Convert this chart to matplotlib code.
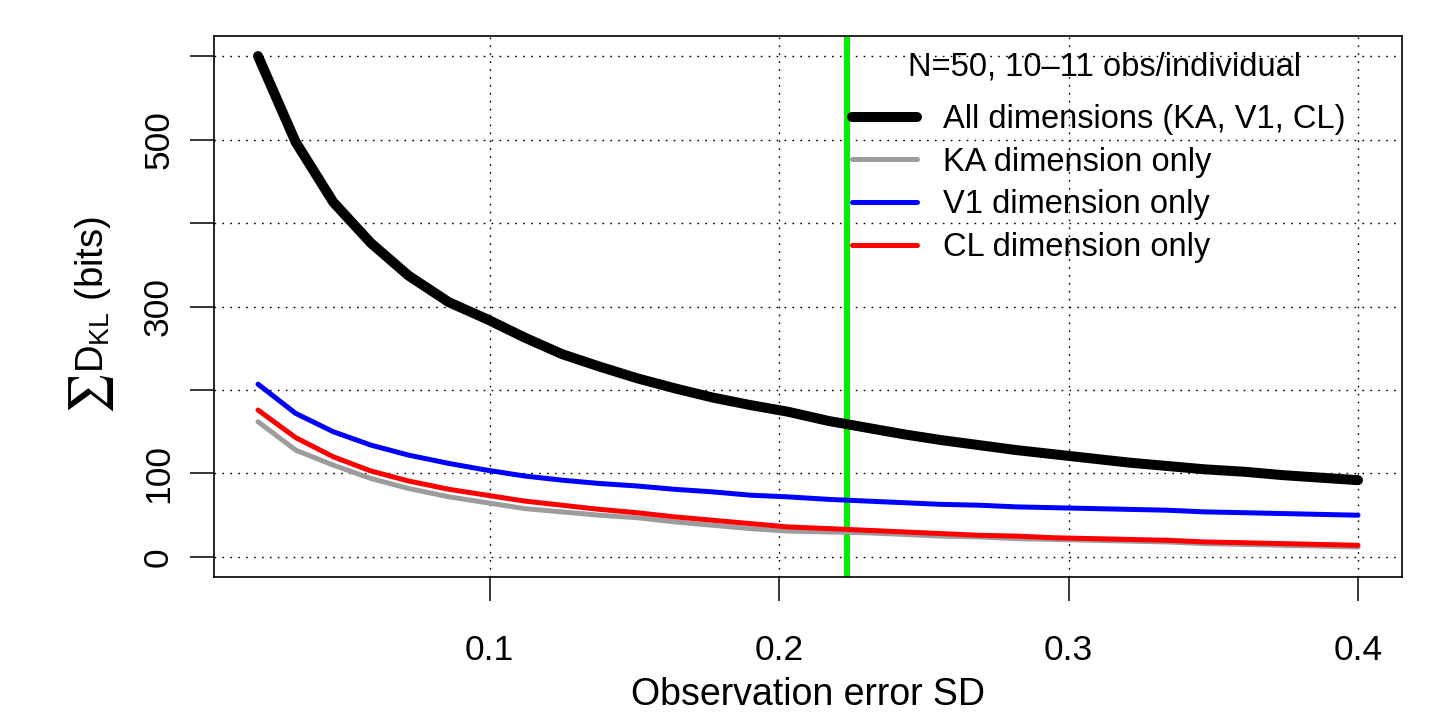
import matplotlib
matplotlib.use('Agg')
import matplotlib.pyplot as plt

# ---- data ----
sd = [0.020, 0.033, 0.046, 0.059, 0.072, 0.086, 0.099, 0.112, 0.125, 0.138,
      0.151, 0.164, 0.177, 0.190, 0.203, 0.217, 0.230, 0.243, 0.256, 0.269,
      0.282, 0.295, 0.308, 0.321, 0.334, 0.347, 0.361, 0.374, 0.387, 0.400]
all_dims = [600, 497, 425, 376, 337, 305, 285, 263, 243, 228,
            214, 202, 191, 182, 174, 163, 155, 147, 140, 134,
            128, 123, 118, 113, 109, 105, 102, 98, 95, 92]
ka_only = [162, 128, 110, 94, 82, 72, 65, 58, 54, 50,
           47, 42, 38, 34, 31, 30, 29, 27, 25, 24,
           22, 21, 20, 19, 18, 16, 15, 14, 13, 12]
v1_only = [207, 172, 150, 134, 122, 112, 104, 97, 92, 88,
           85, 81, 78, 74, 72, 69, 67, 65, 63, 62,
           60, 59, 58, 57, 56, 54, 53, 52, 51, 50]
cl_only = [176, 143, 120, 103, 91, 81, 74, 67, 62, 57,
           53, 48, 44, 40, 36, 34, 32, 30, 28, 26,
           25, 23, 22, 21, 20, 18, 17, 16, 15, 14]
chosen_sd = 0.2236

xtick_values = [0.1, 0.2, 0.3, 0.4]
xtick_labels = ['0.1', '0.2', '0.3', '0.4']
ytick_values = [0, 100, 200, 300, 400, 500, 600]
ytick_labels = ['0', '100', '', '300', '', '500', '']

legend_title = 'N=50, 10\u201311 obs/individual'
series_labels = ['All dimensions (KA, V1, CL)', 'KA dimension only',
                 'V1 dimension only', 'CL dimension only']
series_colors = ['black', '#9c9c9c', '#0000ff', '#ff0000']

# ---- style ----
plt.rcParams['font.family'] = ['Liberation Sans', 'DejaVu Sans']
plt.rcParams['mathtext.fontset'] = 'custom'
plt.rcParams['mathtext.rm'] = 'Liberation Sans'
plt.rcParams['mathtext.it'] = 'Liberation Sans:italic'
plt.rcParams['mathtext.bf'] = 'Liberation Sans:bold'

W, H = 1448, 713
fig = plt.figure(figsize=(W / 100, H / 100), dpi=100)
ax = fig.add_axes([214 / W, 1 - 577 / H, (1402 - 214) / W, (577 - 36) / H])

ax.set_xlim(0.0048, 0.4152)
ax.set_ylim(-24, 624)

ax.set_xticks(xtick_values)
ax.set_xticklabels(xtick_labels)
ax.set_yticks(ytick_values)
ax.set_yticklabels(ytick_labels, rotation=90, va='center')

ax.grid(True, color='black', linestyle=(0, (1.2, 4.5)), linewidth=1.0)
ax.set_axisbelow(True)

ax.axvline(chosen_sd, color='#00ee00', linewidth=4.3, zorder=2)

series = [all_dims, ka_only, v1_only, cl_only]
widths = [7.2, 3.6, 3.6, 3.6]
handles = []
for vals, col, lw, lab in zip(series, series_colors, widths, series_labels):
    h, = ax.plot(sd, vals, color=col, linewidth=lw, solid_capstyle='round',
                 solid_joinstyle='round', label=lab, zorder=3)
    handles.append(h)

for s in ax.spines.values():
    s.set_linewidth(1.2)
    s.set_color('black')

ax.tick_params(axis='both', direction='out', length=17, width=1.1, colors='black')
ax.tick_params(axis='x', labelsize=25.5, pad=24)
ax.tick_params(axis='y', labelsize=25.5, pad=11)

ax.set_xlabel('Observation error SD', fontsize=27, labelpad=7)

# y label: big summation sign + D_KL (bits)
fig.text(93 / W, 1 - 294 / H, r'D$_{\mathrm{KL}}$ (bits)', rotation=90,
         fontsize=27.5, ha='center', va='center')
fig.text(92 / W, 1 - 394 / H, r'$\sum$', rotation=90, fontsize=32,
         math_fontfamily='stix', ha='center', va='center')

# legend title as separate text, legend rows below it
fig.text(1105 / W, 1 - 67 / H, legend_title, fontsize=23.5,
         ha='center', va='center')
leg = ax.legend(handles=handles, loc='upper left',
                bbox_to_anchor=((852 - 214) / 1188, 1 - (104 - 36) / 541),
                frameon=False, fontsize=23.5,
                handlelength=2.0, handletextpad=0.8, labelspacing=0.36,
                borderpad=0.0, borderaxespad=0.0)
leg.set_zorder(5)

fig.savefig('out.png', dpi=100, facecolor='white')
